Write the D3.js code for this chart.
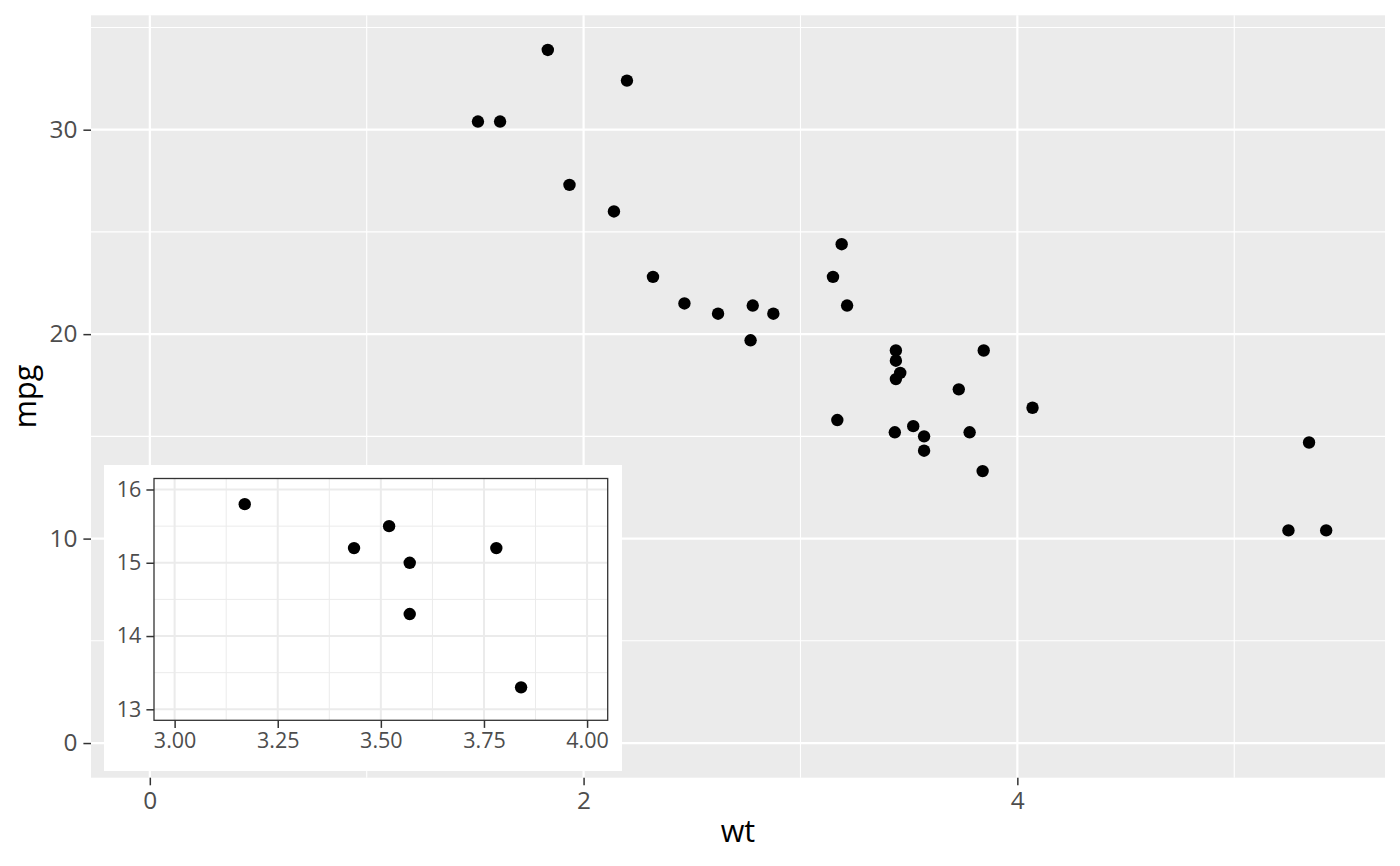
<!DOCTYPE html>
<html>
<head>
<meta charset="utf-8">
<script src="https://cdn.jsdelivr.net/npm/d3@7"></script>
<style>
  body { margin: 0; background: #fff; }
  svg text { font-family: "Open Sans", sans-serif; }
</style>
</head>
<body>
<div id="chart"></div>
<script>
// mtcars: weight (1000 lbs) and miles per gallon
var wt  = [2.620, 2.875, 2.320, 3.215, 3.440, 3.460, 3.570, 3.190, 3.150, 3.440, 3.440,
           4.070, 3.730, 3.780, 5.250, 5.424, 5.345, 2.200, 1.615, 1.835, 2.465, 3.520,
           3.435, 3.840, 3.845, 1.935, 2.140, 1.513, 3.170, 2.770, 3.570, 2.780];
var mpg = [21.0, 21.0, 22.8, 21.4, 18.7, 18.1, 14.3, 24.4, 22.8, 19.2, 17.8,
           16.4, 17.3, 15.2, 10.4, 10.4, 14.7, 32.4, 30.4, 33.9, 21.5, 15.5,
           15.2, 13.3, 19.2, 27.3, 26.0, 30.4, 15.8, 19.7, 15.0, 21.4];

var xMajor = [0, 2, 4], xMinor = [1, 3, 5];
var yMajor = [0, 10, 20, 30], yMinor = [5, 15, 25, 35];

var insetXLim = [3, 4], insetYLim = [13, 16];
var insetXMajor = [3, 3.25, 3.5, 3.75, 4], insetXMinor = [3.125, 3.375, 3.625, 3.875];
var insetYMajor = [13, 14, 15, 16], insetYMinor = [13.5, 14.5, 15.5];

var W = 1400, H = 866;
var pts = wt.map(function(d, i) { return {wt: d, mpg: mpg[i]}; });

function expand(lo, hi) {
  var p = (hi - lo) * 0.05;
  return [lo - p, hi + p];
}

var svg = d3.select("#chart").append("svg")
  .attr("width", W).attr("height", H);

// ---- main plot ----
var pl = 91, pr = 1385, pt = 15.3, pb = 777.7;
var x = d3.scaleLinear().domain(expand(0, d3.max(wt))).range([pl, pr]);
var y = d3.scaleLinear().domain(expand(0, d3.max(mpg))).range([pb, pt]);

svg.append("rect").attr("x", pl).attr("y", pt)
  .attr("width", pr - pl).attr("height", pb - pt).attr("fill", "#EBEBEB");

var grid = svg.append("g");
grid.selectAll(".xmin").data(xMinor).enter().append("line")
  .attr("x1", x).attr("x2", x).attr("y1", pt).attr("y2", pb)
  .attr("stroke", "#fff").attr("stroke-width", 1.1);
grid.selectAll(".ymin").data(yMinor).enter().append("line")
  .attr("y1", y).attr("y2", y).attr("x1", pl).attr("x2", pr)
  .attr("stroke", "#fff").attr("stroke-width", 1.1);
grid.selectAll(".xmaj").data(xMajor).enter().append("line")
  .attr("x1", x).attr("x2", x).attr("y1", pt).attr("y2", pb)
  .attr("stroke", "#fff").attr("stroke-width", 2.2);
grid.selectAll(".ymaj").data(yMajor).enter().append("line")
  .attr("y1", y).attr("y2", y).attr("x1", pl).attr("x2", pr)
  .attr("stroke", "#fff").attr("stroke-width", 2.2);

svg.append("g").selectAll("circle").data(pts).enter().append("circle")
  .attr("cx", function(d) { return x(d.wt); })
  .attr("cy", function(d) { return y(d.mpg); })
  .attr("r", 6.2).attr("fill", "#000");

function styleAxis(g, size) {
  g.select(".domain").remove();
  g.selectAll(".tick line").attr("stroke", "#333333").attr("stroke-width", 1.5);
  g.selectAll(".tick text").attr("fill", "#4D4D4D")
    .style("font-size", size + "px").style("font-family", "'Open Sans', sans-serif");
}

svg.append("g").attr("transform", "translate(0," + pb + ")")
  .call(d3.axisBottom(x).tickValues(xMajor).tickFormat(d3.format("d"))
    .tickSizeOuter(0).tickSize(7.6).tickPadding(6))
  .call(styleAxis, 24.4);

svg.append("g").attr("transform", "translate(" + pl + ",0)")
  .call(d3.axisLeft(y).tickValues(yMajor).tickFormat(d3.format("d"))
    .tickSizeOuter(0).tickSize(7.6).tickPadding(6))
  .call(styleAxis, 24.4);

svg.append("text").attr("x", (pl + pr) / 2).attr("y", 842)
  .attr("text-anchor", "middle").style("font-size", "30.5px").attr("fill", "#000")
  .text("wt");
svg.append("text").attr("transform", "translate(36," + ((pt + pb) / 2) + ") rotate(-90)")
  .attr("text-anchor", "middle").style("font-size", "30.5px").attr("fill", "#000")
  .text("mpg");

// ---- inset ----
var ib = {l: 104, r: 622, t: 465, b: 771};
var il = 154, ir = 607.7, it = 478.5, ibt = 720.3;
var xi = d3.scaleLinear().domain(expand(insetXLim[0], insetXLim[1])).range([il, ir]);
var yi = d3.scaleLinear().domain(expand(insetYLim[0], insetYLim[1])).range([ibt, it]);

var inset = svg.append("g");
inset.append("rect").attr("x", ib.l).attr("y", ib.t)
  .attr("width", ib.r - ib.l).attr("height", ib.b - ib.t).attr("fill", "#fff");

svg.append("clipPath").attr("id", "insetClip").append("rect")
  .attr("x", il).attr("y", it).attr("width", ir - il).attr("height", ibt - it);

var ig = inset.append("g").attr("clip-path", "url(#insetClip)");
ig.selectAll(".xmin").data(insetXMinor).enter().append("line")
  .attr("x1", xi).attr("x2", xi).attr("y1", it).attr("y2", ibt)
  .attr("stroke", "#EBEBEB").attr("stroke-width", 1);
ig.selectAll(".ymin").data(insetYMinor).enter().append("line")
  .attr("y1", yi).attr("y2", yi).attr("x1", il).attr("x2", ir)
  .attr("stroke", "#EBEBEB").attr("stroke-width", 1);
ig.selectAll(".xmaj").data(insetXMajor).enter().append("line")
  .attr("x1", xi).attr("x2", xi).attr("y1", it).attr("y2", ibt)
  .attr("stroke", "#EBEBEB").attr("stroke-width", 2);
ig.selectAll(".ymaj").data(insetYMajor).enter().append("line")
  .attr("y1", yi).attr("y2", yi).attr("x1", il).attr("x2", ir)
  .attr("stroke", "#EBEBEB").attr("stroke-width", 2);

ig.selectAll("circle").data(pts).enter().append("circle")
  .attr("cx", function(d) { return xi(d.wt); })
  .attr("cy", function(d) { return yi(d.mpg); })
  .attr("r", 6.2).attr("fill", "#000");

inset.append("rect").attr("x", il).attr("y", it)
  .attr("width", ir - il).attr("height", ibt - it)
  .attr("fill", "none").attr("stroke", "#333333").attr("stroke-width", 1.3);

inset.append("g").attr("transform", "translate(0," + ibt + ")")
  .call(d3.axisBottom(xi).tickValues(insetXMajor).tickFormat(d3.format(".2f"))
    .tickSizeOuter(0).tickSize(7.6).tickPadding(5))
  .call(styleAxis, 21.5);

inset.append("g").attr("transform", "translate(" + il + ",0)")
  .call(d3.axisLeft(yi).tickValues(insetYMajor).tickFormat(d3.format("d"))
    .tickSizeOuter(0).tickSize(7.6).tickPadding(5))
  .call(styleAxis, 21.5);
</script>
</body>
</html>
